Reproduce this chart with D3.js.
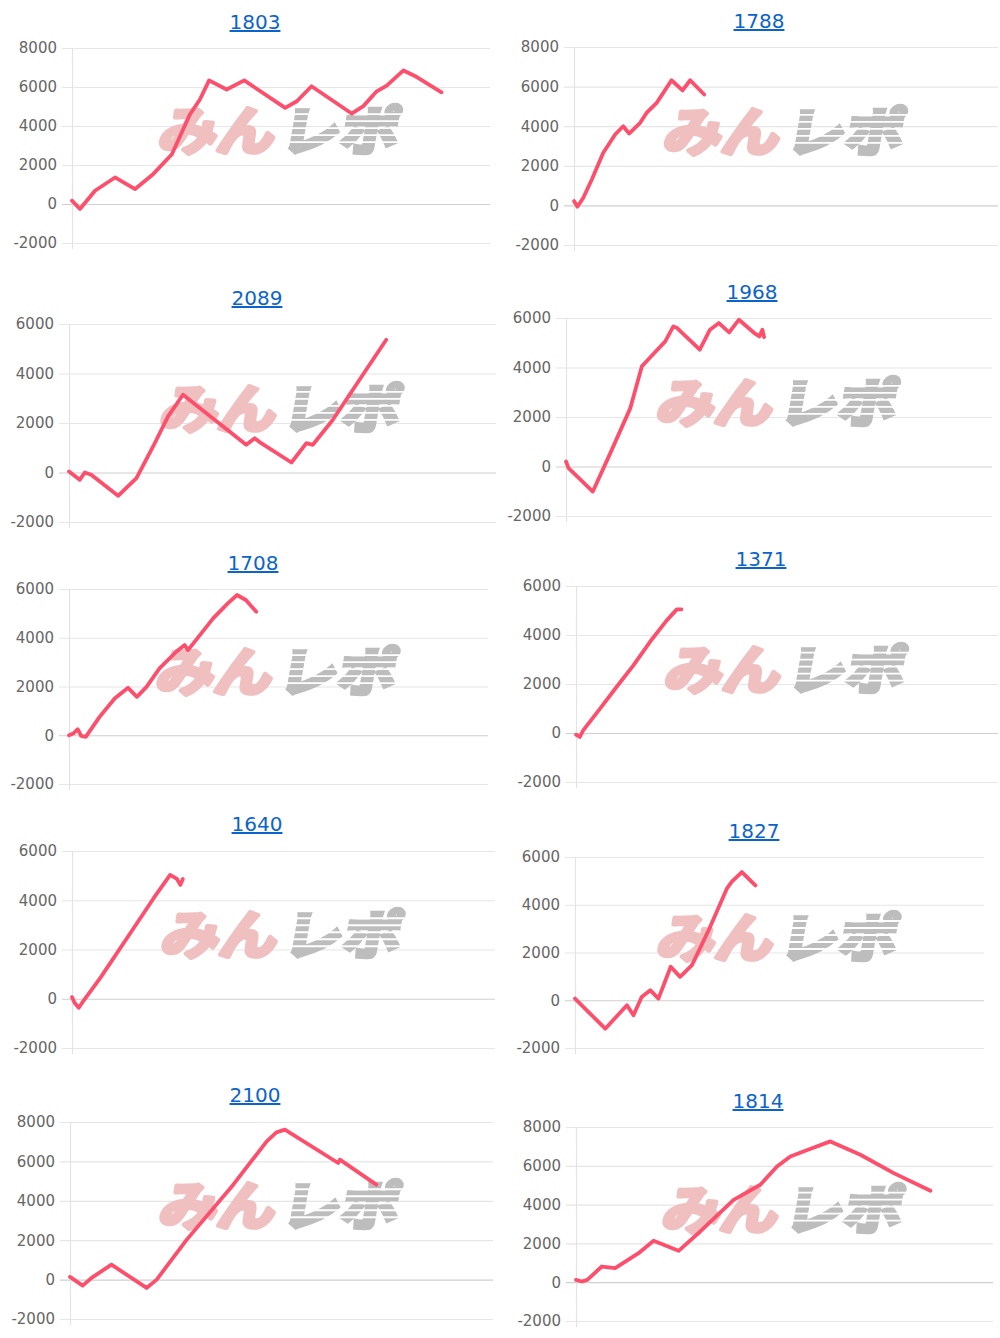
<!DOCTYPE html>
<meta charset="utf-8">
<script src="https://d3js.org/d3.v7.min.js"></script>
<style>
  body { margin: 0; background: #fff; }
</style>
<div id="my_dataviz"></div>
<script>

// titles of the ten small charts (left to right, top to bottom)
var titles = ["1803", "1788", "2089", "1968", "1708", "1371", "1640", "1827", "2100", "1814"];

// y tick values
var ticks8000 = [-2000, 0, 2000, 4000, 6000, 8000];
var ticks6000 = [-2000, 0, 2000, 4000, 6000];

// series: [progress (0-100 of x axis), value]
var s1803 = [[0,170],[1.9,-255],[5.5,680],[10.3,1360],[15.1,765],[19.4,1530],[23.9,2550],[28.2,4590],[30.6,5360],[32.8,6340],[37,5870],[41.2,6340],[51,4930],[53.8,5270],[57.3,6040],[66.9,4640],[69.7,5020],[72.9,5780],[75.3,6070],[79.3,6850],[82.5,6510],[88.4,5730]];
var s1788 = [[0,217],[0.8,-66],[2.2,386],[4.2,1310],[6.9,2660],[9.7,3580],[11.6,4000],[13,3630],[15.6,4170],[17.1,4670],[19.5,5180],[23,6320],[25.6,5810],[27.4,6320],[30.7,5600]];
var s2089 = [[0,40],[2.5,-297],[3.7,0],[5.2,-94],[11.5,-944],[15.8,-229],[19.7,1051],[23.2,2265],[26.7,3141],[41.5,1119],[43.5,1388],[45,1186],[52.1,404],[55.6,1186],[57.1,1119],[61.8,2130],[69.6,4152],[74.3,5365]];
var s1968 = [[0,202],[0.6,-67],[6.3,-1011],[10.4,539],[15.1,2359],[17.8,4044],[19.4,4341],[23.3,5055],[25.2,5662],[26.1,5594],[31.4,4718],[33.8,5527],[35.9,5796],[38.3,5419],[40.6,5931],[44.2,5392],[45.4,5257],[46.1,5527],[46.5,5230]];
var s1708 = [[0,0],[1,68],[2.1,247],[2.9,-27],[4,-68],[7.3,754],[10.9,1507],[14.1,1945],[16.2,1576],[18.5,1987],[21.6,2740],[25.6,3425],[27.6,3699],[28.4,3494],[34.4,4795],[37.9,5412],[40.1,5754],[42.2,5549],[44.7,5069]];
var s1371 = [[0,-68],[0.9,-163],[1.7,109],[5.7,993],[9.6,1877],[13.6,2761],[17.5,3713],[21.5,4597],[23.9,5046],[25,5046]];
var s1640 = [[0,67],[0.6,-162],[1.6,-364],[2.4,-162],[6.7,849],[14.6,2871],[19.3,4084],[23.2,5028],[24.8,4866],[25.6,4624],[26.2,4866]];
var s1827 = [[0,70],[7.4,-1192],[12.7,-210],[14.3,-631],[16.3,140],[18.4,421],[20.4,70],[23.4,1402],[25.7,981],[28.6,1472],[32.7,2944],[37.2,4697],[38.4,4977],[40.8,5370],[44.1,4809]];
var s2100 = [[0,135],[3,-304],[5.1,85],[9.8,761],[18.1,-423],[20.5,0],[27.6,2029],[38.6,4819],[46.5,7018],[48.8,7474],[50.8,7610],[63.4,5919],[63.8,6088],[72.4,4819]];
var s1814 = [[0,120],[1.4,34],[2.7,120],[6.2,808],[9.4,722],[15,1496],[18.6,2133],[24.6,1617],[29.8,2614],[37.8,4248],[44.2,5022],[48.2,5968],[51.4,6484],[55,6777],[61,7258],[68.2,6570],[76.2,5624],[85,4713]];

var seriesList = [s1803, s1788, s2089, s1968, s1708, s1371, s1640, s1827, s2100, s1814];
var tickList = [ticks8000, ticks8000, ticks6000, ticks6000, ticks6000, ticks6000, ticks6000, ticks6000, ticks8000, ticks8000];

// where each small chart sits on the page
var layout = [
  {left: 72,  right: 490, top: 48,   bottom: 243,  tx: 255, ty: 29},
  {left: 574, right: 998, top: 47,   bottom: 245,  tx: 759, ty: 28},
  {left: 69,  right: 496, top: 324,  bottom: 522,  tx: 257, ty: 305},
  {left: 566, right: 992, top: 318,  bottom: 516,  tx: 752, ty: 299},
  {left: 69,  right: 488, top: 589,  bottom: 784,  tx: 253, ty: 570},
  {left: 576, right: 998, top: 586,  bottom: 782,  tx: 761, ty: 566},
  {left: 72,  right: 495, top: 851,  bottom: 1048, tx: 257, ty: 831},
  {left: 575, right: 984, top: 857,  bottom: 1048, tx: 754, ty: 838},
  {left: 70,  right: 493, top: 1122, bottom: 1319, tx: 255, ty: 1102},
  {left: 576, right: 993, top: 1127, bottom: 1321, tx: 758, ty: 1108}
];

var svg = d3.select("#my_dataviz")
  .append("svg")
    .attr("width", 1000)
    .attr("height", 1338);

var defs = svg.append("defs");

// horizontal "speed" stripes cut into the grey half of the logo (local coords)
var mask = defs.append("mask")
  .attr("id", "stripes")
  .attr("maskUnits", "userSpaceOnUse")
  .attr("maskContentUnits", "userSpaceOnUse")
  .attr("x", -20).attr("y", -70).attr("width", 200).attr("height", 100);
mask.append("rect")
  .attr("x", -20).attr("y", -70).attr("width", 200).attr("height", 100)
  .style("fill", "#fff");
[-37, -30, -23, -16, -9].forEach(function(o) {
  mask.append("rect")
    .attr("x", -20).attr("y", o).attr("width", 200).attr("height", 1.8)
    .style("fill", "#000");
});

seriesList.forEach(function(data, i) {
  var L = layout[i];
  var ticks = tickList[i];
  var g = svg.append("g");

  var x = d3.scaleLinear().domain([0, 100]).range([L.left, L.right]);
  var y = d3.scaleLinear().domain([d3.min(ticks), d3.max(ticks)]).range([L.bottom, L.top]);

  // title (link style)
  g.append("text")
    .attr("x", L.tx)
    .attr("y", L.ty)
    .attr("text-anchor", "middle")
    .style("font-family", "DejaVu Sans")
    .style("font-size", "20px")
    .style("fill", "#0b64cc")
    .style("text-decoration", "underline")
    .text(titles[i]);

  // gridlines
  g.selectAll(".grid")
    .data(ticks)
    .enter()
    .append("line")
      .attr("x1", L.left - 10)
      .attr("x2", L.right)
      .attr("y1", function(d) { return y(d) + 0.5 })
      .attr("y2", function(d) { return y(d) + 0.5 })
      .style("stroke", function(d) { return d === 0 ? "#cfcfcf" : "#e6e6e6" })
      .style("stroke-width", 1.2);

  // left axis line
  g.append("line")
    .attr("x1", L.left + 0.5).attr("x2", L.left + 0.5)
    .attr("y1", L.top).attr("y2", L.bottom + 6)
    .style("stroke", "#e3e3e3")
    .style("stroke-width", 1.2);

  // tick labels
  var ax = g.append("g")
    .attr("transform", "translate(" + (L.left - 2) + ",0)")
    .call(d3.axisLeft(y).tickValues(ticks).tickSize(0).tickPadding(13)
      .tickFormat(function(d) { return String(d) }));
  ax.select(".domain").remove();
  ax.selectAll("text")
    .style("font-family", "DejaVu Sans")
    .style("font-size", "15px")
    .style("fill", "#666");

  // watermark
  var cx = (L.left + L.right) / 2;
  var base = L.top + 0.545 * (L.bottom - L.top) - 4;
  var wm = g.append("g")
    .attr("transform", "translate(" + cx + "," + base + ") skewX(-10)");
  wm.append("text")
    .attr("x", -124)
    .attr("y", 0)
    .attr("textLength", 116)
    .attr("lengthAdjust", "spacingAndGlyphs")
    .style("font-family", "Noto Sans CJK JP")
    .style("font-weight", 700)
    .style("font-size", "52px")
    .style("fill", "#f0c0c0")
    .style("stroke", "#f0c0c0")
    .style("stroke-width", 4.5)
    .style("stroke-linejoin", "round")
    .text("みん");
  wm.append("text")
    .attr("x", -2)
    .attr("y", 0)
    .attr("textLength", 118)
    .attr("lengthAdjust", "spacingAndGlyphs")
    .attr("mask", "url(#stripes)")
    .style("font-family", "Noto Sans CJK JP")
    .style("font-weight", 700)
    .style("font-size", "52px")
    .style("fill", "#bdbdbd")
    .style("stroke", "#bdbdbd")
    .style("stroke-width", 4.5)
    .text("レポ");

  // the line
  g.append("path")
    .datum(data)
    .attr("d", d3.line()
      .x(function(d) { return x(d[0]) })
      .y(function(d) { return y(d[1]) })
    )
    .style("fill", "none")
    .style("stroke", "#fd4f6c")
    .style("stroke-width", 3.8)
    .style("stroke-linejoin", "round")
    .style("stroke-linecap", "round");
});

</script>
